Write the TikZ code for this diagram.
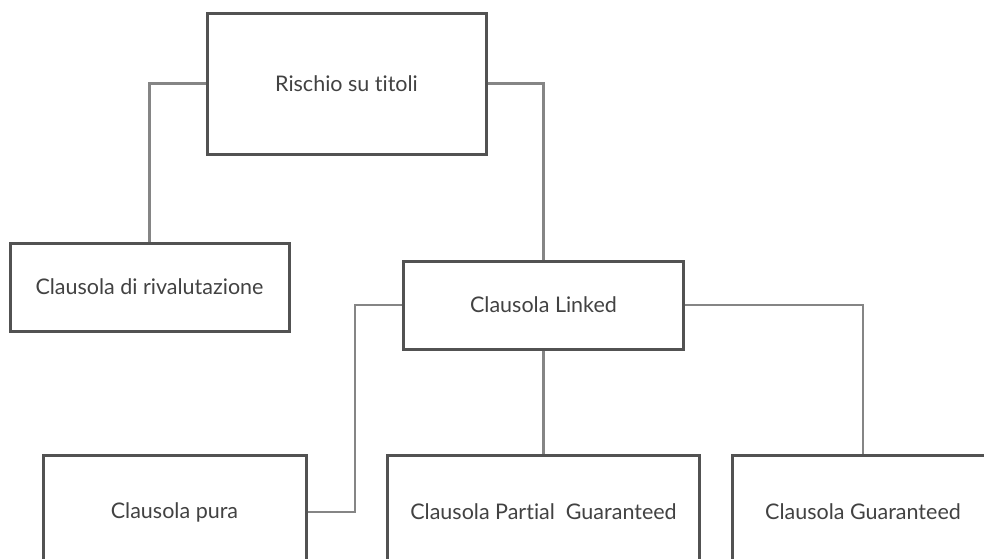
\documentclass[tikz,border=0pt]{standalone}
\usepackage{fontspec}
\setmainfont{Lato}[Ligatures=NoCommon]
\usepackage{tikz}
\definecolor{boxgrey}{RGB}{82,82,82}
\definecolor{linkgrey}{RGB}{133,133,133}
\definecolor{textgrey}{RGB}{66,66,66}

\tikzset{
  clause/.style={draw=boxgrey, line width=3pt, fill=white, inner sep=0pt,
    text=textgrey, font=\fontsize{21.5}{25}\selectfont},
  link/.style={draw=linkgrey, line width=2.6pt}
}

\begin{document}
\begin{tikzpicture}[x=1pt,y=-1pt]
                \useasboundingbox (0,0) rectangle (984,558);
                \clip (0,0) rectangle (984,558);
                % bend point of the left connector
                \coordinate (purabend) at (355,0);
                % boxes
                \node[clause, minimum width=279pt, minimum height=141pt] (rischio) at (346.5,83.5) {Rischio su titoli};
                \node[clause, minimum width=279pt, minimum height=88pt] (rival) at (149.5,287) {Clausola di rivalutazione};
                \node[clause, minimum width=280pt, minimum height=88pt] (linked) at (543.5,305) {Clausola Linked};
                \node[clause, minimum width=263pt, minimum height=114pt] (pura) at (174.5,512) {Clausola pura};
                \node[clause, minimum width=312pt, minimum height=114pt] (partial) at (543.5,512) {Clausola Partial\ \ Guaranteed};
                \node[clause, minimum width=262pt, minimum height=114pt] (guaranteed) at (863,512) {Clausola Guaranteed};
                % connectors
                \draw[link] (rischio.west) -| (rival.north);
                \draw[link] (rischio.east) -| (linked.north);
                \draw[link] (pura.east) -- (pura.east -| purabend) |- (linked.west);
                \draw[link] (linked.south) -- (partial.north);
                \draw[link] (linked.east) -| (guaranteed.north);
\end{tikzpicture}
\end{document}
